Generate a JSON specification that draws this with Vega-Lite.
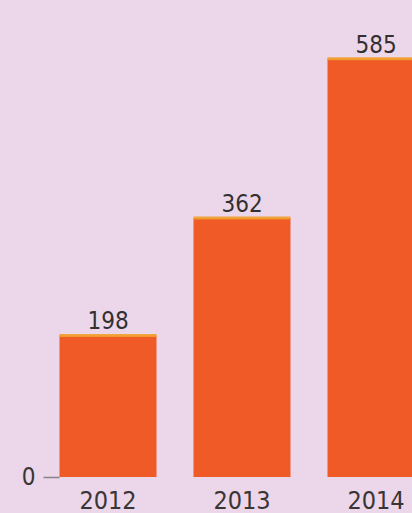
{
  "$schema": "https://vega.github.io/schema/vega-lite/v6.json",
  "autosize": "none",
  "width": 402,
  "height": 477,
  "padding": {"left": 41, "top": 0, "right": 0, "bottom": 36},
  "background": "#ecd6ea",
  "config": {"view": {"stroke": null}, "font": "DejaVu Sans Condensed, sans-serif"},
  "data": {"values": [
    {"year": "2012", "value": 198},
    {"year": "2013", "value": 362},
    {"year": "2014", "value": 585}
  ]},
  "encoding": {
    "x": {"field": "year", "type": "nominal", "sort": null,
      "scale": {"paddingInner": 0.276, "paddingOuter": 0.138},
      "axis": {"title": null, "labelAngle": 0, "ticks": false, "domain": false, "labelFontSize": 25, "labelColor": "#3a3535", "labelPadding": 11}},
    "y": {"field": "value", "type": "quantitative",
      "scale": {"domain": [0, 667], "nice": false},
      "axis": {"title": null, "values": [0], "grid": false, "domain": false, "offset": -18, "tickSize": 16, "tickColor": "#8a8088", "tickWidth": 1.5, "labelFontSize": 24, "labelColor": "#3a3535", "labelPadding": 8}}
  },
  "layer": [
    {"mark": {"type": "bar", "color": "#ef5a27"}},
    {"mark": {"type": "tick", "color": "#f2a02c", "size": 97, "thickness": 3, "opacity": 0.9}},
    {"mark": {"type": "text", "baseline": "alphabetic", "dy": -6, "fontSize": 24, "color": "#333030"},
     "encoding": {"text": {"field": "value", "type": "quantitative"}}}
  ]
}
